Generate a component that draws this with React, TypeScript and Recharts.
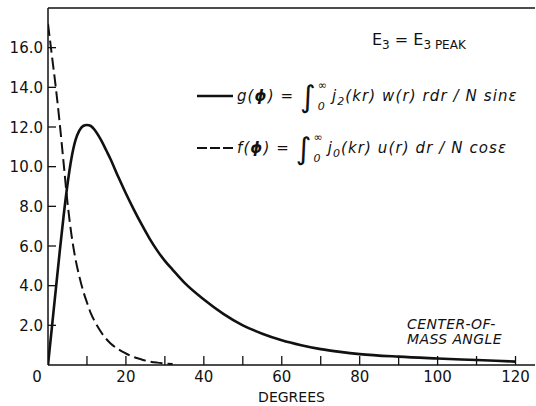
import React from 'react';
import { LineChart, Line, XAxis, YAxis, ReferenceLine } from 'recharts';

// g(phi) — solid curve
const gDeg = [0, 1, 2, 3, 4, 5, 6, 7, 8, 9, 10, 11, 12, 13, 14, 15, 16, 18, 20, 22, 24, 26, 28, 30, 32, 35, 40, 45, 50, 55, 60, 65, 70, 75, 80, 90, 100, 110, 120];
const gVal = [0, 1.9, 3.8, 5.7, 7.5, 9.1, 10.4, 11.3, 11.8, 12.05, 12.1, 12.05, 11.85, 11.55, 11.2, 10.8, 10.4, 9.5, 8.65, 7.85, 7.1, 6.4, 5.78, 5.25, 4.8, 4.15, 3.3, 2.58, 2.0, 1.58, 1.25, 1.0, 0.8, 0.66, 0.55, 0.42, 0.33, 0.25, 0.17];

// f(phi) — dashed curve
const fDeg = [0, 1, 2, 3, 4, 5, 6, 7, 8, 9, 10, 11, 12, 13, 14, 16, 18, 20, 22, 24, 26, 28, 30, 32];
const fVal = [17.2, 15.6, 14.0, 12.2, 10.2, 8.2, 6.6, 5.4, 4.5, 3.75, 3.15, 2.6, 2.2, 1.85, 1.55, 1.1, 0.8, 0.58, 0.4, 0.28, 0.18, 0.12, 0.08, 0.05];

const xTicks = [0, 10, 20, 30, 40, 50, 60, 70, 80, 90, 100, 110, 120];
const yTicks = [2, 4, 6, 8, 10, 12, 14, 16];

const gData = gDeg.map((x, i) => ({ x, y: gVal[i] }));
const fData = fDeg.map((x, i) => ({ x, y: fVal[i] }));

const INK = '#111';
const FONT = '"DejaVu Sans", sans-serif';

const LeftTick = (props: any) => {
  const { x, y, payload } = props;
  return (
    <g>
      <line x1={x} x2={x + 8} y1={y} y2={y} stroke={INK} strokeWidth={1.3} />
      <text x={x - 5} y={y + 5.5} textAnchor="end" fontSize={15} fontFamily={FONT} fill={INK}>
        {payload.value.toFixed(1)}
      </text>
    </g>
  );
};

const RightTick = (props: any) => {
  const { x, y } = props;
  return <line x1={x} x2={x - 8} y1={y} y2={y} stroke={INK} strokeWidth={1.3} />;
};

const BottomTick = (props: any) => {
  const { x, y, payload } = props;
  const v = payload.value;
  return (
    <g>
      {v > 0 && <line x1={x} x2={x} y1={y} y2={y - 9} stroke={INK} strokeWidth={1.3} />}
      {v % 20 === 0 && (
        <text x={v === 0 ? x - 11 : x} y={y + 17} textAnchor="middle" fontSize={15} fontFamily={FONT} fill={INK}>
          {v}
        </text>
      )}
    </g>
  );
};

const Integral = () => (
  <span style={{ display: 'inline-flex', alignItems: 'center', verticalAlign: 'middle', margin: '0 5px 0 0' }}>
    <span style={{ fontSize: 30, fontStyle: 'normal', lineHeight: 1 }}>∫</span>
    <span style={{ display: 'inline-flex', flexDirection: 'column', fontSize: 11, lineHeight: 1.1, marginLeft: 1, letterSpacing: 0 }}>
      <span style={{ fontStyle: 'normal' }}>∞</span>
      <span style={{ marginTop: 9 }}>0</span>
    </span>
  </span>
);

const legendText: React.CSSProperties = {
  position: 'absolute',
  left: 237,
  fontSize: 15,
  fontStyle: 'italic',
  letterSpacing: 1.1,
  whiteSpace: 'nowrap',
};

export default function App() {
  return (
    <div style={{ position: 'absolute', left: 0, top: 0, width: 536, height: 406, background: '#fff', fontFamily: FONT, color: INK }}>
      <LineChart width={536} height={406} margin={{ top: 8, right: 0, left: 0, bottom: 0 }}>
        <XAxis
          type="number"
          dataKey="x"
          domain={[0, 125]}
          ticks={xTicks}
          interval={0}
          height={41}
          tickSize={0}
          tickMargin={0}
          tick={<BottomTick />}
          axisLine={{ stroke: INK, strokeWidth: 1.5 }}
          allowDataOverflow
          label={{ value: 'DEGREES', position: 'insideBottom', offset: 4, fontSize: 14, fontFamily: FONT, fill: INK }}
        />
        <YAxis
          yAxisId="l"
          type="number"
          domain={[0, 18]}
          ticks={yTicks}
          interval={0}
          width={48}
          tickSize={0}
          tickMargin={0}
          tick={<LeftTick />}
          axisLine={{ stroke: INK, strokeWidth: 1.5 }}
        />
        <YAxis
          yAxisId="r"
          orientation="right"
          type="number"
          domain={[0, 18]}
          ticks={yTicks}
          interval={0}
          width={1}
          tickSize={0}
          tickMargin={0}
          tick={<RightTick />}
          axisLine={false}
        />
        <ReferenceLine yAxisId="l" y={18} stroke={INK} strokeWidth={1.5} />
        <Line
          yAxisId="l"
          data={fData}
          dataKey="y"
          type="monotone"
          stroke={INK}
          strokeWidth={2}
          strokeDasharray="12 5"
          dot={false}
          isAnimationActive={false}
        />
        <Line
          yAxisId="l"
          data={gData}
          dataKey="y"
          type="monotone"
          stroke={INK}
          strokeWidth={2.6}
          dot={false}
          isAnimationActive={false}
        />
      </LineChart>

      <div style={{ position: 'absolute', left: 372, top: 30, fontSize: 16, whiteSpace: 'nowrap' }}>
        E<sub style={{ fontSize: 12 }}>3</sub> = E<sub style={{ fontSize: 12 }}>3 PEAK</sub>
      </div>

      <svg width={536} height={406} style={{ position: 'absolute', left: 0, top: 0, pointerEvents: 'none' }}>
        <line x1={197} x2={233} y1={96} y2={96} stroke={INK} strokeWidth={2.4} />
        <line x1={197} x2={233} y1={148} y2={148} stroke={INK} strokeWidth={2} strokeDasharray="10 3" />
      </svg>

      <div style={{ ...legendText, top: 80 }}>
        g(<b>ϕ</b>) = <Integral />j<sub style={{ fontSize: 11 }}>2</sub>(kr) w(r) rdr / N sinε
      </div>
      <div style={{ ...legendText, top: 132 }}>
        f(<b>ϕ</b>) = <Integral />j<sub style={{ fontSize: 11 }}>0</sub>(kr) u(r) dr / N cosε
      </div>

      <div style={{ position: 'absolute', left: 407, top: 317, fontSize: 14, fontStyle: 'italic', letterSpacing: 0.4, lineHeight: '15px', whiteSpace: 'nowrap' }}>
        CENTER-OF-
        <br />
        MASS ANGLE
      </div>
    </div>
  );
}
